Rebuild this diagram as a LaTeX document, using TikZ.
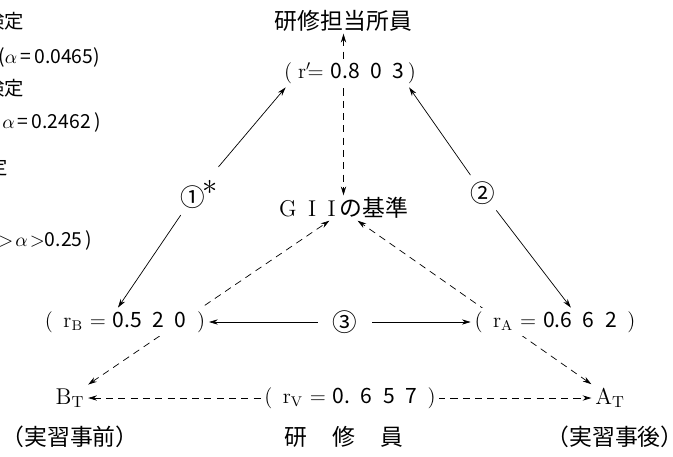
\documentclass[tikz,border=0pt]{standalone}
\usepackage{fontspec}
\newfontfamily\jp{Noto Sans CJK JP}
\usepackage{tikz}
\usetikzlibrary{arrows.meta,backgrounds}
\tikzset{
  lbl/.style={fill=white, inner sep=2pt, font=\fontsize{12}{14}\selectfont},
  tst/.style={circle, inner sep=0.5pt, font=\jp\fontsize{14}{16}\selectfont},
  big/.style={inner sep=1pt, font=\jp\fontsize{13}{15}\selectfont},
  side/.style={anchor=west, inner sep=0pt, font=\jp\fontsize{11}{13}\selectfont},
  sol/.style={thin},
  dsh/.style={thin, dash pattern=on 4pt off 3pt},
  >={Stealth[length=5pt,width=3pt]}
}

\begin{document}
\begin{tikzpicture}
  \useasboundingbox (0,0) rectangle (13.46,-9.12);
  \clip (0,0) rectangle (13.46,-9.12);
  % cut text at the left edge
  \node[side] (t1) at (-0.3,-0.42) {検定};
  \node[side] (t2) at (-0.04,-1.14) {($\alpha$\,=\,0.0465)};
  \node[side] (t3) at (-0.3,-1.76) {検定};
  \node[side] (t4) at (0.04,-2.44) {$\alpha$\,=\,0.2462\,)};
  \node[side] (t5) at (-0.62,-3.34) {検定};
  \node[side] (t6) at (-0.04,-4.8) {$>\!\alpha\!>$0.25\,)};
  % persons and values
  \node[big] (staff) at (6.87,-0.42) {研修担当所員};
  \node[lbl] (rp) at (7.0,-1.46) {(\;r$'\!$= {\jp 0.8\enspace0\enspace3}\,)};
  \node[big] (gii) at (6.87,-4.16) {\rmfamily G\enspace I\enspace I\,{\jp の基準}};
  \node[lbl] (rb) at (2.5,-6.44) {(\enspace$\mathrm{r}_{\mathrm{B}}$ = {\jp 0.5\enspace2\enspace0}\enspace)};
  \node[lbl] (ra) at (11.1,-6.44) {(\enspace$\mathrm{r}_{\mathrm{A}}$ = {\jp 0.6\enspace6\enspace2}\enspace)};
  \node[lbl] (rv) at (7.0,-7.96) {(\enspace$\mathrm{r}_{\mathrm{V}}$ = {\jp 0.\enspace6\enspace5\enspace7}\enspace)};
  \node[lbl, font=\fontsize{13}{15}\selectfont] (bt) at (1.4,-7.96) {$\mathrm{B}_{\mathrm{T}}$};
  \node[lbl, font=\fontsize{13}{15}\selectfont] (at) at (12.2,-7.96) {$\mathrm{A}_{\mathrm{T}}$};
  \node[tst] (c1) at (3.86,-3.94) {①};
  \node[font=\fontsize{16}{18}\selectfont, inner sep=0pt] (ast) at (4.2,-3.74) {$*$};
  \node[tst] (c2) at (9.66,-3.86) {②};
  \node[tst] (c3) at (6.9,-6.44) {③};
  \node[big] (bl) at (1.4,-8.74) {（実習事前）};
  \node[big] (bm) at (6.87,-8.74) {研\hspace{1.1em}修\hspace{1.1em}員};
  \node[big] (br) at (12.3,-8.74) {（実習事後）};
  % arrows
  \begin{scope}[on background layer]
    \draw[dsh, <->] (staff) -- (gii);
    \draw[dsh, <->] (bt.north east) -- ([xshift=-8pt]gii.south);
    \draw[dsh, <->] (at.north west) -- ([xshift=8pt]gii.south);
    \draw[dsh, <->] (bt) -- (at);
    \draw[sol, ->, shorten <=12pt] (c1) -- ([xshift=3pt]rp.south west);
    \draw[sol, ->, shorten <=2pt] (c1) -- ([xshift=-4pt]rb.north);
    \draw[sol, ->, shorten <=2pt] (c2) -- ([xshift=-6pt]rp.south east);
    \draw[sol, ->, shorten <=2pt] (c2) -- ([xshift=9pt]ra.north);
    \draw[sol, ->, shorten <=5pt] (c3) -- (rb);
    \draw[sol, ->, shorten <=5pt] (c3) -- (ra);
  \end{scope}
\end{tikzpicture}
\end{document}
